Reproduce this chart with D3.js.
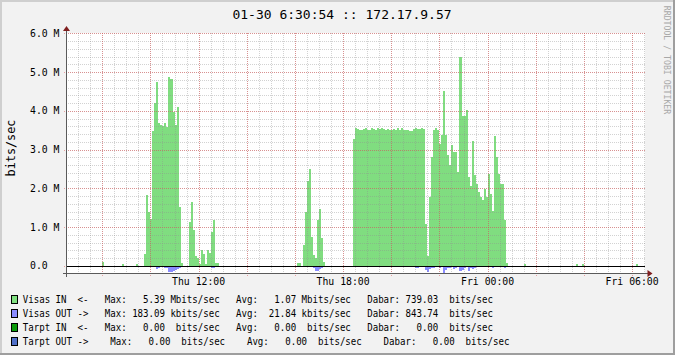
<!DOCTYPE html>
<html>
<head>
<meta charset="utf-8">
<script src="https://cdn.jsdelivr.net/npm/d3@7"></script>
<style>
  html, body { margin: 0; padding: 0; background: #f2f2f2; }
  svg { display: block; }
  text { font-family: "DejaVu Sans Mono", monospace; white-space: pre; }
</style>
</head>
<body>
<div id="chart"></div>
<script>
// traffic in Mbit/s, one value per 5 minute step, each run starts at the given time
const visasInMorning = [0.30, 1.82, 1.39, 1.20, 3.47, 4.20, 4.74, 3.69, 3.63, 3.62, 3.69, 3.58, 4.87, 4.81, 3.97, 3.63, 4.10, 1.52, 0.08]; // 09:45
const visasInNoon = [1.13, 1.65, 0.92, 0.25, 0.20, 0.04, 0.40, 0.30, 0.04, 0.42, 0.32, 0.88, 1.18, 0.08, 0.08]; // 11:35
const visasInAfternoon = [0.06, 0.06, 0.00, 0.53, 1.39, 2.20, 2.49, 0.75, 0.27, 0.19, 1.18, 1.46, 0.73, 0.10]; // 16:05
const visasInEvening = [
  3.26, 3.56, 3.52, 3.51, 3.51, 3.53, 3.56, 3.50, 3.51, 3.56, 3.52, 3.50, 3.56, 3.52, 3.56, 3.53, 3.51, 3.52,
  3.50, 3.51, 3.53, 3.50, 3.56, 3.51, 3.56, 3.51, 3.50, 3.51, 3.49, 3.49, 3.52, 3.56, 3.52, 3.53, 3.56, 3.53,
  1.09, 0.25, 1.78, 2.81, 3.50, 3.56, 3.50, 3.15, 3.37, 4.51, 3.37, 2.85, 2.60, 3.11, 2.94, 2.94, 2.42, 5.39,
  3.86, 3.86, 4.01, 2.29, 2.05, 3.21, 2.34, 2.12, 1.91, 1.78, 1.69, 1.97, 1.78, 2.38, 1.86, 1.41, 3.35, 2.81,
  2.38, 2.12, 2.10, 1.18, 0.08]; // 18:25
const visasInBlipTimes = ["2014-01-30 08:00", "2014-01-30 08:50", "2014-01-30 09:25", "2014-01-31 01:30", "2014-01-31 03:40", "2014-01-31 03:55", "2014-01-31 06:10"];
const visasInBlipValues = [0.09, 0.04, 0.04, 0.05, 0.05, 0.05, 0.05];

const visasOutMorning = [0.035, 0.035, 0.035, 0.04, 0.04, 0.04, 0.08, 0.05, 0.04, 0.04, 0.06, 0.06, 0.16, 0.155, 0.13, 0.11, 0.09, 0.06, 0.04]; // 09:45
const visasOutNoon = [0.04, 0.04, 0.03, 0.03, 0.00, 0.00, 0.02, 0.02, 0.00, 0.04, 0.04, 0.05, 0.05, 0.03, 0.02]; // 11:35
const visasOutAfternoon = [0.03, 0.03, 0.03, 0.02, 0.01, 0.05, 0.14, 0.14, 0.09, 0.06, 0.00]; // 16:20
const visasOutEvening = [
  0.03, 0.03, 0.03, 0.03, 0.03, 0.03, 0.03, 0.03, 0.03, 0.03, 0.03, 0.03, 0.03, 0.03, 0.03, 0.03, 0.03, 0.03,
  0.03, 0.03, 0.03, 0.03, 0.03, 0.03, 0.03, 0.03, 0.03, 0.03, 0.03, 0.03, 0.03, 0.06, 0.06, 0.03, 0.03, 0.03,
  0.11, 0.15, 0.09, 0.05, 0.05, 0.02, 0.02, 0.05, 0.03, 0.18, 0.11, 0.06, 0.05, 0.03, 0.09, 0.06, 0.03, 0.14,
  0.10, 0.06, 0.03, 0.13, 0.06, 0.08, 0.05, 0.03, 0.02, 0.02, 0.02, 0.02, 0.02, 0.02, 0.04, 0.06, 0.02, 0.03,
  0.02, 0.02, 0.02, 0.05, 0.01]; // 18:25
const visasOutBlipTimes = ["2014-01-30 08:50", "2014-01-30 09:25"];
const visasOutBlipValues = [0.02, 0.02];

const yMajorTicks = [0, 1, 2, 3, 4, 5, 6];
const yTickLabels = ["0.0", "1.0 M", "2.0 M", "3.0 M", "4.0 M", "5.0 M", "6.0 M"];
const legendColors = ["#80e080", "#8a8cff", "#0a9a0a", "#5070c8"];
const legendRows = [
  "Visas IN  <-   Max:   5.39 Mbits/sec   Avg:   1.07 Mbits/sec   Dabar: 739.03  bits/sec",
  "Visas OUT ->   Max: 183.09 kbits/sec   Avg:  21.84 kbits/sec   Dabar: 843.74  bits/sec",
  "Tarpt IN  <-   Max:   0.00  bits/sec   Avg:   0.00  bits/sec   Dabar:   0.00  bits/sec",
  "Tarpt OUT ->    Max:   0.00  bits/sec    Avg:   0.00  bits/sec    Dabar:   0.00  bits/sec"
];
const titleText = "01-30 6:30:54 :: 172.17.9.57";
const unitText = "bits/sec";
const watermark = "RRDTOOL / TOBI OETIKER";

const parse = d3.timeParse("%Y-%m-%d %H:%M");
const day = "2014-01-30 ";
const inRuns = [
  [day + "09:45", visasInMorning],
  [day + "11:35", visasInNoon],
  [day + "16:05", visasInAfternoon],
  [day + "18:25", visasInEvening]
].concat(visasInBlipTimes.map((t, i) => [t, [visasInBlipValues[i]]]));
const outRuns = [
  [day + "09:45", visasOutMorning],
  [day + "11:35", visasOutNoon],
  [day + "16:20", visasOutAfternoon],
  [day + "18:25", visasOutEvening]
].concat(visasOutBlipTimes.map((t, i) => [t, [visasOutBlipValues[i]]]));

const W = 675, H = 355;
const t0 = new Date(2014, 0, 30, 6, 30, 54), t1 = new Date(2014, 0, 31, 6, 30, 54);
const x = d3.scaleTime().domain([t0, t1]).range([66.5, 644.5]);
const y = d3.scaleLinear().domain([-0.18309, 6]).range([272.9, 33.3]);
const px = v => Math.round(v) + 0.5;

const svg = d3.select("#chart").append("svg")
  .attr("width", W).attr("height", H);

// background + shaded frame
svg.append("rect").attr("width", W).attr("height", H).attr("fill", "#f2f2f2");
svg.append("path").attr("d", `M0,${H} V0 H${W}`).attr("fill", "none")
  .attr("stroke", "#cfcfcf").attr("stroke-width", 4);
svg.append("path").attr("d", `M0,${H} H${W} V0`).attr("fill", "none")
  .attr("stroke", "#9e9e9e").attr("stroke-width", 4);

// canvas
const plotLeft = 66, plotRight = 645, plotTop = Math.round(y(6)), plotBottom = Math.round(y(y.domain()[0]));
svg.append("rect").attr("x", plotLeft).attr("y", plotTop)
  .attr("width", plotRight - plotLeft).attr("height", plotBottom - plotTop)
  .attr("fill", "#ffffff");

// data areas (step per 5 minutes)
const step = 5 * 60 * 1000;
function runPoints(run, sign) {
  const start = parse(run[0]).getTime();
  const pts = run[1].map((v, i) => [new Date(start + i * step), sign * v]);
  pts.push([new Date(start + run[1].length * step), sign * run[1][run[1].length - 1]]);
  return pts;
}
const area = d3.area()
  .x(d => Math.round(x(d[0])))
  .y0(Math.round(y(0)))
  .y1(d => Math.round(y(d[1])))
  .curve(d3.curveStepAfter);

svg.append("g").attr("shape-rendering", "crispEdges")
  .selectAll("path").data(inRuns).enter().append("path")
  .attr("d", r => area(runPoints(r, 1))).attr("fill", "#80dd80");
svg.append("g").attr("shape-rendering", "crispEdges")
  .selectAll("path").data(outRuns).enter().append("path")
  .attr("d", r => area(runPoints(r, -1))).attr("fill", "#8a8cff");

// grid on top of the data, as rrdtool does
const grid = svg.append("g").attr("stroke-dasharray", "1,1").attr("stroke-width", 1);
d3.timeMinute.every(30).range(t0, t1).forEach(d => {
  grid.append("line").attr("x1", px(x(d))).attr("x2", px(x(d)))
    .attr("y1", plotTop).attr("y2", plotBottom + 2).attr("stroke", "#8f8f8f").attr("stroke-opacity", 0.4);
});
d3.range(0, 6.01, 0.2).forEach(v => {
  grid.append("line").attr("x1", plotLeft).attr("x2", plotRight)
    .attr("y1", px(y(v))).attr("y2", px(y(v))).attr("stroke", "#8f8f8f").attr("stroke-opacity", 0.4);
});
d3.timeHour.every(2).range(t0, t1).forEach(d => {
  grid.append("line").attr("x1", px(x(d))).attr("x2", px(x(d)))
    .attr("y1", plotTop).attr("y2", plotBottom + 3).attr("stroke", "#de4f4f").attr("stroke-opacity", 0.5);
});
yMajorTicks.forEach(v => {
  grid.append("line").attr("x1", plotLeft - 2).attr("x2", plotRight)
    .attr("y1", px(y(v))).attr("y2", px(y(v))).attr("stroke", "#de4f4f").attr("stroke-opacity", 0.5);
});

// zero line
svg.append("line").attr("x1", plotLeft).attr("x2", plotRight)
  .attr("y1", px(y(0))).attr("y2", px(y(0))).attr("stroke", "#000");

// axes
svg.append("line").attr("x1", 63).attr("x2", 649).attr("y1", px(plotBottom)).attr("y2", px(plotBottom))
  .attr("stroke", "#5a5a5a");
svg.append("line").attr("x1", px(plotLeft)).attr("x2", px(plotLeft)).attr("y1", 30).attr("y2", plotBottom + 4)
  .attr("stroke", "#5a5a5a");
svg.append("path").attr("d", `M${px(plotLeft)},26 L${px(plotLeft) - 3.5},31 L${px(plotLeft) + 3.5},31 Z`)
  .attr("fill", "#801f1f");
svg.append("path").attr("d", `M652.5,${px(plotBottom)} L647.5,${px(plotBottom) - 3.5} L647.5,${px(plotBottom) + 3.5} Z`)
  .attr("fill", "#801f1f");

// y labels
svg.append("g").selectAll("text").data(yMajorTicks).enter().append("text")
  .attr("x", 30).attr("y", v => y(v) + 3.5)
  .attr("font-size", "9.8px").attr("fill", "#000")
  .text((v, i) => yTickLabels[i]);

// x labels
const fmt = d3.timeFormat("%a %H:%M");
svg.append("g").selectAll("text").data(d3.timeHour.every(6).range(t0, t1)).enter().append("text")
  .attr("x", d => x(d)).attr("y", 285).attr("text-anchor", "middle")
  .attr("font-size", "9.8px").text(d => fmt(d));

// title, unit, watermark
svg.append("text").attr("x", 342).attr("y", 18.5).attr("text-anchor", "middle")
  .attr("font-size", "13px").text(titleText);
svg.append("text").attr("transform", "translate(14.5,148) rotate(-90)").attr("text-anchor", "middle")
  .attr("font-size", "11.8px").text(unitText);
svg.append("text").attr("transform", "translate(664,60) rotate(90)").attr("text-anchor", "middle")
  .attr("font-size", "8.2px").attr("fill", "#a8a8a8").text(watermark);

// legend
const leg = svg.append("g");
legendRows.forEach((row, i) => {
  const by = 303.3 + i * 14;
  leg.append("rect").attr("x", 11.5).attr("y", Math.round(by) - 7.5).attr("width", 6).attr("height", 8)
    .attr("fill", legendColors[i]).attr("stroke", "#000").attr("stroke-width", 1);
  leg.append("text").attr("transform", `translate(22.8,${by}) scale(0.842,1)`)
    .attr("font-size", "10.8px").text(row);
});
</script>
</body>
</html>
